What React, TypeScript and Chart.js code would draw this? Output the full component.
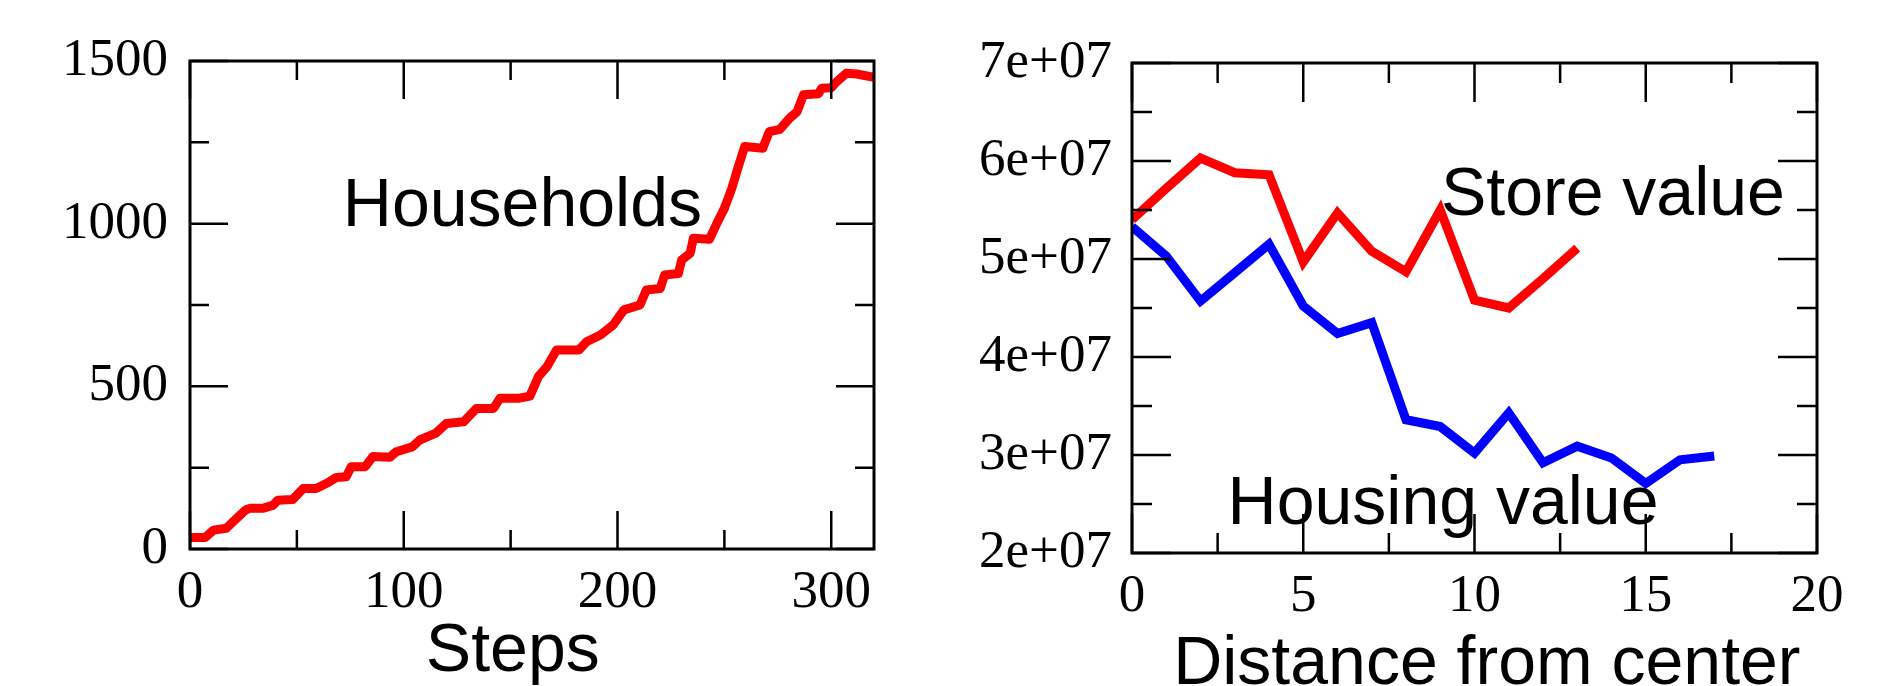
import React, { useEffect, useRef } from 'react';
import { Chart, registerables } from 'chart.js';

Chart.register(...registerables);

// ---------- Left chart: Households vs Steps ----------
const stepsX = [
  0, 7, 11, 17, 21, 26, 28, 34, 39, 41,
  48, 53, 59, 64, 68.5, 73, 75.5, 82, 85.5, 93.5,
  96.5, 104, 107.5, 115, 120, 128, 134, 142, 145, 153.5,
  159, 163, 167, 171.5, 182, 185.5, 192, 198, 203, 210.5,
  213.5, 220, 222, 228.5, 230, 234, 235.5, 243, 246.5, 250,
  253.5, 256.5, 259.5, 268, 271, 276, 280.5, 284, 287, 294,
  295.5, 300, 302.5, 307, 312, 320,
];
const households = [
  35, 35, 58, 64, 89, 120, 125, 125, 135, 150,
  152, 186, 186, 202, 220, 222, 253, 253, 284, 282,
  299, 314, 335, 356, 386, 391, 432, 432, 463, 463,
  470, 530, 560, 612, 612, 637, 658, 689, 735, 750,
  796, 801, 842, 847, 888, 909, 955, 952, 1001, 1047,
  1109, 1175, 1237, 1232, 1283, 1290, 1324, 1344, 1396, 1399,
  1416, 1418, 1436, 1462, 1460, 1450,
];
const stepsTicks = [0, 100, 200, 300];
const stepsTickLabels = ['0', '100', '200', '300'];
const stepsMinorTicks = [50, 150, 250];
const householdsTicks = [0, 500, 1000, 1500];
const householdsTickLabels = ['0', '500', '1000', '1500'];
const householdsMinorTicks = [250, 750, 1250];

// ---------- Right chart: values vs distance ----------
const distance = [0, 1, 2, 3, 4, 5, 6, 7, 8, 9, 10, 11, 12, 13, 14, 15, 16, 17];
const storeValue = [
  5.40e7, 5.72e7, 6.03e7, 5.88e7, 5.86e7, 4.97e7, 5.47e7, 5.08e7, 4.87e7, 5.50e7,
  4.58e7, 4.50e7, 4.80e7, 5.11e7,
];
const housingValue = [
  5.33e7, 5.03e7, 4.57e7, 4.86e7, 5.15e7, 4.52e7, 4.24e7, 4.35e7, 3.36e7, 3.29e7,
  3.02e7, 3.43e7, 2.92e7, 3.09e7, 2.97e7, 2.71e7, 2.95e7, 2.99e7,
];
const distanceTicks = [0, 5, 10, 15, 20];
const distanceTickLabels = ['0', '5', '10', '15', '20'];
const distanceMinorTicks = [2.5, 7.5, 12.5, 17.5];
const valueTicks = [2e7, 3e7, 4e7, 5e7, 6e7, 7e7];
const valueTickLabels = ['2e+07', '3e+07', '4e+07', '5e+07', '6e+07', '7e+07'];
const valueMinorTicks = [2.5e7, 3.5e7, 4.5e7, 5.5e7, 6.5e7];

const SANS = '"Liberation Sans", Arial, sans-serif';
const SERIF = '"Liberation Serif", "Times New Roman", serif';
const H = 686;

const framePlugin = {
  id: 'frameTicks',
  afterDatasetsDraw(chart: any, _args: any, opts: any) {
    const { ctx, chartArea: a } = chart;
    const xs = chart.scales.x;
    const ys = chart.scales.y;
    ctx.save();
    ctx.strokeStyle = '#000';
    ctx.lineCap = 'butt';
    ctx.lineWidth = opts.tickWidth;
    ctx.beginPath();
    const xTick = (v: number, len: number) => {
      const p = xs.getPixelForValue(v);
      ctx.moveTo(p, a.bottom);
      ctx.lineTo(p, a.bottom - len);
      ctx.moveTo(p, a.top);
      ctx.lineTo(p, a.top + len);
    };
    const yTick = (v: number, len: number) => {
      const p = ys.getPixelForValue(v);
      ctx.moveTo(a.left, p);
      ctx.lineTo(a.left + len, p);
      ctx.moveTo(a.right, p);
      ctx.lineTo(a.right - len, p);
    };
    opts.xMajor.forEach((v: number) => xTick(v, opts.majorLen));
    opts.xMinor.forEach((v: number) => xTick(v, opts.minorLen));
    opts.yMajor.forEach((v: number) => yTick(v, opts.majorLen));
    opts.yMinor.forEach((v: number) => yTick(v, opts.minorLen));
    ctx.stroke();
    ctx.lineWidth = opts.frameWidth;
    ctx.strokeRect(a.left, a.top, a.right - a.left, a.bottom - a.top);

    ctx.fillStyle = '#000';
    ctx.font = `${opts.textSize}px ${SANS}`;
    ctx.textBaseline = 'alphabetic';
    for (const t of opts.texts) {
      ctx.textAlign = t.align || 'left';
      const x = t.xv !== undefined ? xs.getPixelForValue(t.xv) : t.px;
      const y = t.yv !== undefined ? ys.getPixelForValue(t.yv) : t.py;
      ctx.fillText(t.text, x, y);
    }
    ctx.restore();
  },
};

function axisCommon(ticks: number[], labels: string[], fit: (s: any) => void, padding: number) {
  return {
    type: 'linear' as const,
    afterBuildTicks: (s: any) => {
      s.ticks = ticks.map((v) => ({ value: v }));
    },
    afterFit: fit,
    grid: { display: false, drawTicks: false },
    border: { display: false },
    ticks: {
      autoSkip: false,
      maxRotation: 0,
      minRotation: 0,
      padding,
      color: '#000',
      font: { family: SERIF, size: 53 },
      callback: (_v: any, i: number) => labels[i],
    },
  };
}

function leftConfig(): any {
  return {
    type: 'line',
    data: {
      datasets: [
        {
          label: 'Households',
          data: stepsX.map((x, i) => ({ x, y: households[i] })),
          borderColor: '#ff0000',
          borderWidth: 9,
          pointRadius: 0,
          tension: 0,
          borderJoinStyle: 'round',
          fill: false,
        },
      ],
    },
    options: {
      animation: false,
      responsive: false,
      devicePixelRatio: 1,
      layout: { padding: { left: 0, right: 66, top: 61, bottom: 0 } },
      scales: {
        x: { ...axisCommon(stepsTicks, stepsTickLabels, (s) => { s.height = H - 549; }, 12), min: 0, max: 320 },
        y: { ...axisCommon(householdsTicks, householdsTickLabels, (s) => { s.width = 190; }, 22), min: 0, max: 1500 },
      },
      plugins: {
        legend: { display: false },
        tooltip: { enabled: false },
        frameTicks: {
          tickWidth: 2.5,
          frameWidth: 3,
          majorLen: 38,
          minorLen: 19,
          xMajor: stepsTicks,
          xMinor: stepsMinorTicks,
          yMajor: householdsTicks,
          yMinor: householdsMinorTicks,
          textSize: 68,
          texts: [
            { text: 'Households', xv: 71.5, yv: 993 },
            { text: 'Steps', xv: 151, py: 671, align: 'center' },
          ],
        },
      },
    },
    plugins: [framePlugin],
  };
}

function rightConfig(): any {
  return {
    type: 'line',
    data: {
      datasets: [
        {
          label: 'Store value',
          data: storeValue.map((y, i) => ({ x: distance[i], y })),
          borderColor: '#ff0000',
          borderWidth: 9,
          pointRadius: 0,
          tension: 0,
          fill: false,
        },
        {
          label: 'Housing value',
          data: housingValue.map((y, i) => ({ x: distance[i], y })),
          borderColor: '#0000ff',
          borderWidth: 9,
          pointRadius: 0,
          tension: 0,
          fill: false,
        },
      ],
    },
    options: {
      animation: false,
      responsive: false,
      devicePixelRatio: 1,
      layout: { padding: { left: 0, right: 68, top: 63, bottom: 0 } },
      scales: {
        x: { ...axisCommon(distanceTicks, distanceTickLabels, (s) => { s.height = H - 553; }, 12), min: 0, max: 20 },
        y: { ...axisCommon(valueTicks, valueTickLabels, (s) => { s.width = 192; }, 20), min: 2e7, max: 7e7 },
      },
      plugins: {
        legend: { display: false },
        tooltip: { enabled: false },
        frameTicks: {
          tickWidth: 2.5,
          frameWidth: 3,
          majorLen: 39,
          minorLen: 20,
          xMajor: distanceTicks,
          xMinor: distanceMinorTicks,
          yMajor: valueTicks,
          yMinor: valueMinorTicks,
          textSize: 68,
          texts: [
            { text: 'Store value', xv: 9.02, yv: 5.45e7 },
            { text: 'Housing value', xv: 2.79, yv: 2.3e7 },
            { text: 'Distance from center', xv: 10.36, py: 684, align: 'center' },
          ],
        },
      },
    },
    plugins: [framePlugin],
  };
}

function ChartCanvas({ makeConfig, left, width }: { makeConfig: () => any; left: number; width: number }) {
  const ref = useRef<HTMLCanvasElement | null>(null);
  useEffect(() => {
    if (!ref.current) return;
    const chart = new Chart(ref.current, makeConfig());
    return () => chart.destroy();
  }, [makeConfig]);
  return (
    <canvas
      ref={ref}
      width={width}
      height={H}
      style={{ position: 'absolute', left, top: 0, width, height: H, display: 'block' }}
    />
  );
}

export default function App() {
  return (
    <div style={{ position: 'absolute', left: 0, top: 0, width: 1885, height: H, background: '#fff', overflow: 'hidden' }}>
      <ChartCanvas makeConfig={leftConfig} left={0} width={940} />
      <ChartCanvas makeConfig={rightConfig} left={940} width={945} />
    </div>
  );
}
